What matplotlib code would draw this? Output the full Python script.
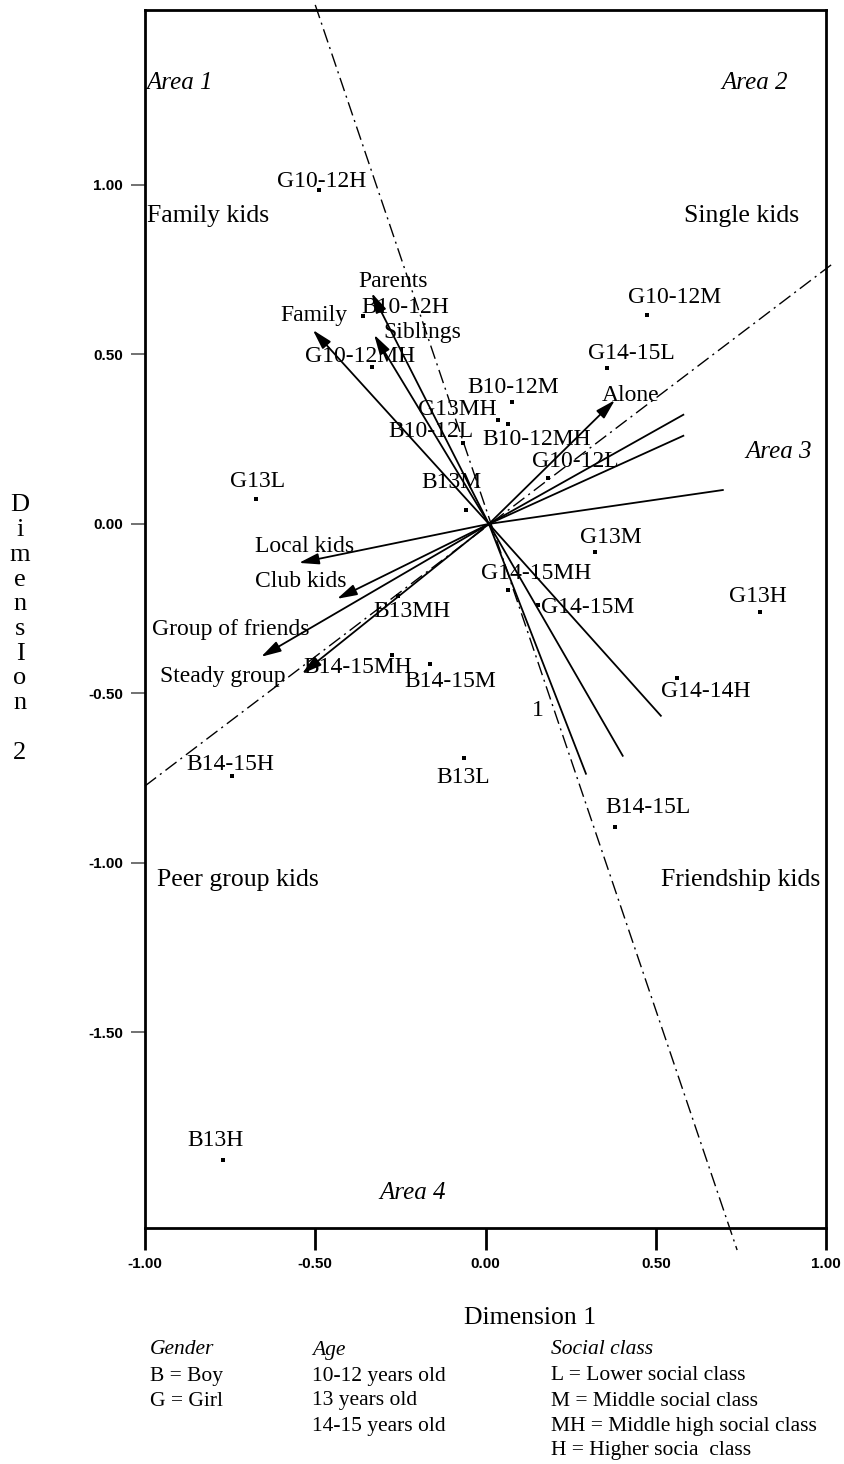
import matplotlib
matplotlib.use('Agg')
import matplotlib.pyplot as plt

# ---------------- data ----------------
# row points (Dimension 1, Dimension 2)
point_labels = ['G10-12H', 'G10-12MH', 'B10-12H', 'G13L', 'B13M', 'B10-12L',
                'G13MH', 'B10-12M', 'B10-12MH', 'G10-12L', 'G14-15L', 'G10-12M',
                'G13M', 'G14-15MH', 'G14-15M', 'G13H', 'G14-14H', 'B13L',
                'B14-15L', 'B14-15H', 'B13MH', 'B14-15MH', 'B14-15M', 'B13H']
point_x = [-0.489, -0.334, -0.361, -0.674, -0.057, -0.066,
           0.037, 0.077, 0.065, 0.184, 0.357, 0.473,
           0.322, 0.066, 0.155, 0.806, 0.562, -0.063,
           0.380, -0.745, -0.257, -0.275, -0.163, -0.771]
point_y = [0.984, 0.463, 0.612, 0.074, 0.041, 0.239,
           0.307, 0.361, 0.295, 0.136, 0.460, 0.617,
           -0.083, -0.195, -0.239, -0.260, -0.454, -0.690,
           -0.894, -0.745, -0.212, -0.386, -0.413, -1.876]

# column vectors with arrow heads
arrow_labels = ['Family', 'Parents', 'Siblings', 'Alone',
                'Local kids', 'Club kids', 'Group of friends', 'Steady group']
arrow_x = [-0.507, -0.334, -0.327, 0.380, -0.548, -0.436, -0.659, -0.539]
arrow_y = [0.572, 0.681, 0.558, 0.365, -0.115, -0.221, -0.392, -0.442]

# unlabelled vectors
vec_x = [0.581, 0.581, 0.697, 0.515, 0.403, 0.295]
vec_y = [0.322, 0.260, 0.100, -0.566, -0.684, -0.737]

vec_origin = (0.01, 0.0)

# area boundaries
boundA_x = [-0.500, 0.739]
boundA_y = [1.531, -2.142]
boundB_x = [-1.000, 1.015]
boundB_y = [-0.773, 0.764]

x_ticks = [-1.0, -0.5, 0.0, 0.5, 1.0]
y_ticks = [-1.5, -1.0, -0.5, 0.0, 0.5, 1.0]

# ---------------- layout / styles ----------------
# label offsets in pixels (right, down) from the point
point_off = [(3, -9), (-12, -10), (43, -9), (2, -17), (-15, -28), (-32, -11),
             (-41, -10), (1, -14), (29, 16), (27, -16), (24, -14), (28, -17),
             (16, -15), (28, -17), (49, 3), (-2, -16), (29, 14), (-1, 20),
             (33, -19), (-2, -12), (14, 16), (-34, 13), (20, 18), (-7, -19)]
arrow_off = [(1, -15), (21, -12), (48, -2), (16, -5),
             (6, -16), (-36, -17), (-30, -27), (-79, 3)]

SERIF = ['Liberation Serif', 'DejaVu Serif']
SANS = ['Liberation Sans', 'DejaVu Sans']

W, H = 844, 1464
fig = plt.figure(figsize=(W / 100, H / 100), dpi=100)
ax = fig.add_axes([145 / W, 1 - 1228 / H, (826 - 145) / W, (1228 - 10) / H])
ax.set_xlim(-1.0, 1.0)
ax.set_ylim(-2.077, 1.516)

for s in ax.spines.values():
    s.set_linewidth(2.0)

ax.set_xticks(x_ticks)
ax.set_xticklabels(['%.2f' % v for v in x_ticks])
ax.set_yticks(y_ticks)
ax.set_yticklabels(['%.2f' % v for v in y_ticks])
ax.tick_params(axis='x', direction='out', length=16, width=2, pad=5)
ax.tick_params(axis='y', direction='out', length=10, width=1.2, pad=6, color='0.35')
for lab in ax.get_xticklabels() + ax.get_yticklabels():
    lab.set_fontfamily(SANS)
    lab.set_fontsize(11)
    lab.set_fontweight('bold')

px = 72 / 100  # pixels -> points

# boundaries (dash-dot)
ax.plot(boundA_x, boundA_y, color='k', lw=1.0, dashes=(10, 3.5, 1.5, 3.5), clip_on=False)
ax.plot(boundB_x, boundB_y, color='k', lw=1.0, dashes=(10, 3.5, 1.5, 3.5), clip_on=False)

# plain vectors
for vx, vy in zip(vec_x, vec_y):
    ax.plot([vec_origin[0], vx], [vec_origin[1], vy], color='k', lw=1.3)

# arrow vectors
for lab, vx, vy, (dx, dy) in zip(arrow_labels, arrow_x, arrow_y, arrow_off):
    ax.annotate('', xy=(vx, vy), xytext=vec_origin,
                arrowprops=dict(arrowstyle='-|>,head_length=1.0,head_width=0.28',
                                mutation_scale=12, lw=1.3, color='k',
                                shrinkA=0, shrinkB=0))
    ax.annotate(lab, xy=(vx, vy), xytext=(dx * px, -dy * px), textcoords='offset points',
                ha='center', va='center', fontsize=17, family=SERIF)

# points
ax.scatter(point_x, point_y, s=7, marker='s', color='k', zorder=3, linewidths=0)
for lab, x, y, (dx, dy) in zip(point_labels, point_x, point_y, point_off):
    ax.annotate(lab, xy=(x, y), xytext=(dx * px, -dy * px), textcoords='offset points',
                ha='center', va='center', fontsize=17, family=SERIF)

ax.text(0.153, -0.55, '1', fontsize=17, family=SERIF, ha='center', va='center')

# area annotations
ax.text(-0.995, 1.30, 'Area 1', fontsize=18, family=SERIF, style='italic', ha='left', va='center')
ax.text(0.791, 1.30, 'Area 2', fontsize=18, family=SERIF, style='italic', ha='center', va='center')
ax.text(0.862, 0.212, 'Area 3', fontsize=18, family=SERIF, style='italic', ha='center', va='center')
ax.text(-0.213, -1.973, 'Area 4', fontsize=18, family=SERIF, style='italic', ha='center', va='center')
ax.text(-0.995, 0.909, 'Family kids', fontsize=18.5, family=SERIF, ha='left', va='center')
ax.text(0.753, 0.909, 'Single kids', fontsize=18.5, family=SERIF, ha='center', va='center')
ax.text(-0.727, -1.050, 'Peer group kids', fontsize=18.5, family=SERIF, ha='center', va='center')
ax.text(0.750, -1.050, 'Friendship kids', fontsize=18.5, family=SERIF, ha='center', va='center')

# axis titles
fig.text(530 / W, 1 - 1318 / H, 'Dimension 1', fontsize=18.5, family=SERIF, ha='center', va='center')
fig.text(20 / W, 1 - 629 / H, '\n'.join(list('DimensIon') + [' ', '2']), fontsize=19,
         family=SERIF, ha='center', va='center', linespacing=1.16, multialignment='center')

# legend block
rows_y = [1350, 1376, 1401, 1426, 1451]
cols = {
    150: ['Gender', 'B = Boy', 'G = Girl'],
    312: ['Age', '10-12 years old', '13 years old', '14-15 years old'],
    551: ['Social class', 'L = Lower social class', 'M = Middle social class',
          'MH = Middle high social class', 'H = Higher socia  class'],
}
for cx, lines in cols.items():
    for i, t in enumerate(lines):
        fig.text(cx / W, 1 - rows_y[i] / H, t, fontsize=15.5, family=SERIF,
                 style='italic' if i == 0 else 'normal', ha='left', va='center')

fig.savefig('out.png', dpi=100)
